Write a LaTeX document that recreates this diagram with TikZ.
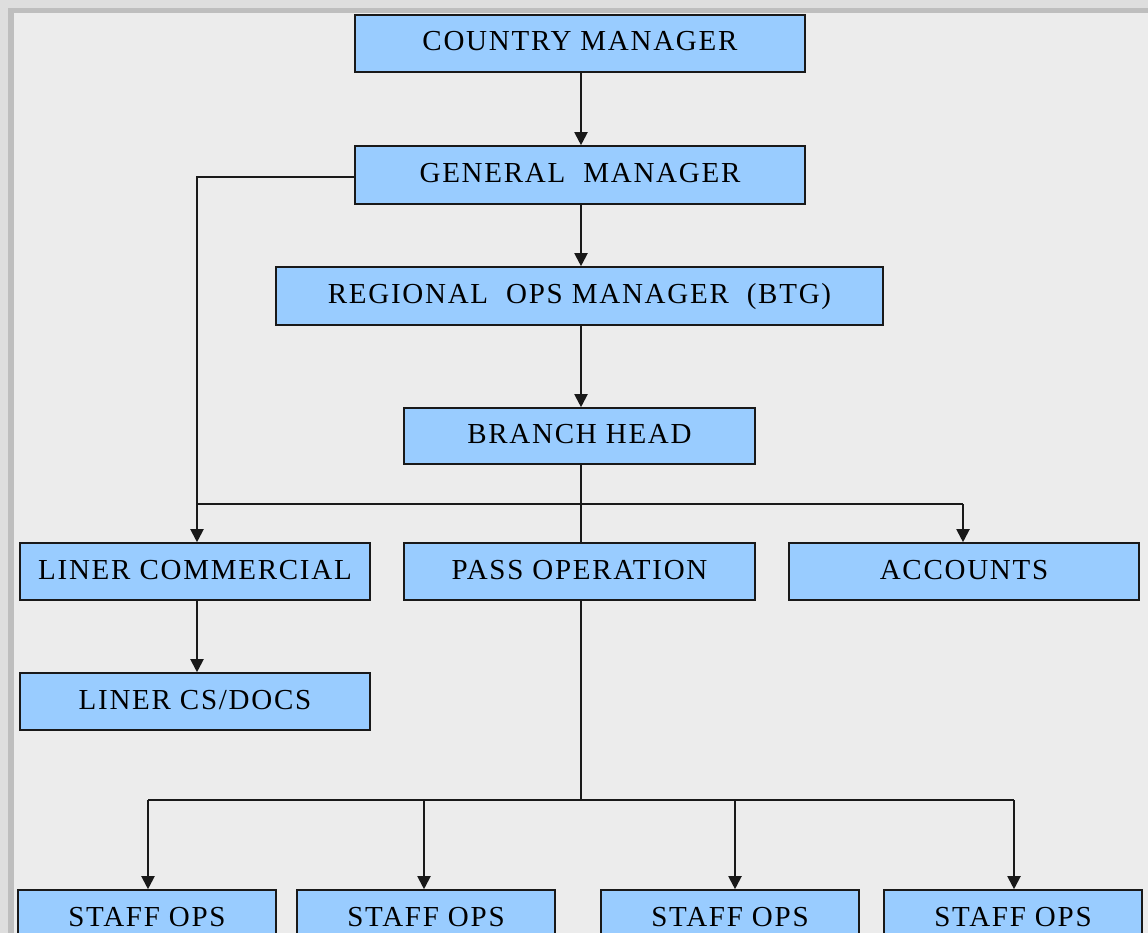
\documentclass[tikz,border=0pt]{standalone}
\usepackage{fontspec}
\setmainfont{Liberation Serif}
\usetikzlibrary{arrows.meta}
\definecolor{boxblue}{RGB}{153,204,255}
\definecolor{bgpaper}{RGB}{236,236,236}
\definecolor{frameg}{RGB}{190,190,190}
\definecolor{framel}{RGB}{222,222,222}
\definecolor{linec}{RGB}{25,25,25}
\tikzset{
  orgbox/.style={draw=linec, fill=boxblue, line width=1.6pt, inner sep=0pt,
    font=\fontsize{29}{34}\selectfont\addfontfeature{LetterSpace=6}, text height=21pt, text depth=6pt},
  conn/.style={draw=linec, line width=2pt},
  arr/.style={conn, -{Triangle[width=13pt,length=13pt]}}
}
\newcommand{\orgnode}[6]{% name, x1, y1, x2, y2, text
  \node[orgbox, minimum width={#4-#2}, minimum height={#5-#3}] (#1) at ({(#2+#4)/2},{(#3+#5)/2}) {#6};}
\begin{document}
\begin{tikzpicture}[x=1pt,y=-1pt]
\clip (0,0) rectangle (1148,933);
\fill[bgpaper] (0,0) rectangle (1148,933);
% frame shadow (top and left)
\fill[framel] (0,0) rectangle (1148,8);
\fill[framel] (0,0) rectangle (8,933);
\fill[frameg] (8,8) rectangle (1148,13);
\fill[frameg] (8,8) rectangle (14,933);
% boxes
\orgnode{cm}{355}{15}{805}{72}{COUNTRY MANAGER}
\orgnode{gm}{355}{146}{805}{204}{GENERAL\ \ MANAGER}
\orgnode{rom}{276}{267}{883}{325}{REGIONAL\ \ OPS MANAGER\ \ (BTG)}
\orgnode{bh}{404}{408}{755}{464}{BRANCH HEAD}
\orgnode{lc}{20}{543}{370}{600}{LINER COMMERCIAL}
\orgnode{po}{404}{543}{755}{600}{PASS OPERATION}
\orgnode{acc}{789}{543}{1139}{600}{ACCOUNTS}
\orgnode{lcs}{20}{673}{370}{730}{LINER CS/DOCS}
\orgnode{s1}{18}{890}{276}{947}{STAFF OPS}
\orgnode{s2}{297}{890}{555}{947}{STAFF OPS}
\orgnode{s3}{601}{890}{859}{947}{STAFF OPS}
\orgnode{s4}{884}{890}{1142}{947}{STAFF OPS}
% junction coordinates
\coordinate (sp) at (581,0);
\coordinate (gmL) at (197,177);
\coordinate (jL) at (197,504);
\coordinate (jR) at (963,504);
\coordinate (p1) at (148,800);
\coordinate (p2) at (424,800);
\coordinate (p3) at (735,800);
\coordinate (p4) at (1014,800);
% connectors
\draw[arr] (cm.south -| sp) -- (gm.north -| sp);
\draw[arr] (gm.south -| sp) -- (rom.north -| sp);
\draw[arr] (rom.south -| sp) -- (bh.north -| sp);
\draw[arr] (gm.west |- gmL) -- (gmL) -- (lc.north -| gmL);
\draw[conn] (bh.south -| sp) -- (po.north -| sp);
\draw[conn] (jL) -- (jR);
\draw[arr] (jR) -- (acc.north -| jR);
\draw[arr] (lc.south -| gmL) -- (lcs.north -| gmL);
\draw[conn] (po.south -| sp) -- (sp |- p1);
\draw[conn] (p1) -- (p4);
\draw[arr] (p1) -- (s1.north -| p1);
\draw[arr] (p2) -- (s2.north -| p2);
\draw[arr] (p3) -- (s3.north -| p3);
\draw[arr] (p4) -- (s4.north -| p4);
\end{tikzpicture}
\end{document}
